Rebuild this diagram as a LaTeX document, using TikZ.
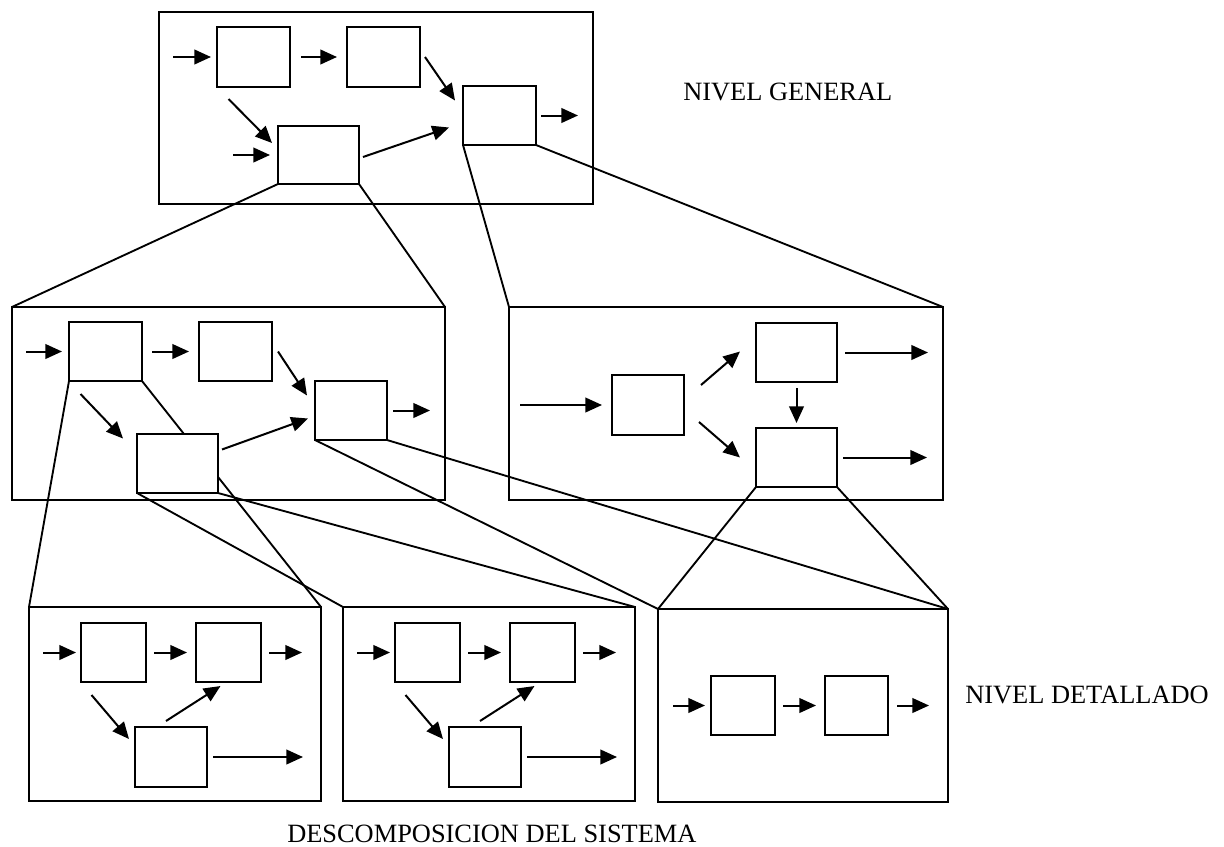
\documentclass[tikz,border=0pt]{standalone}
\usepackage{fontspec}
\setmainfont{Liberation Serif}
\usetikzlibrary{arrows.meta,calc,fit,backgrounds}
\tikzset{
  marco/.style={draw, line width=1.5pt, inner sep=0pt, outer sep=0pt},
  blk/.style={draw, fill=white, line width=1.5pt, inner sep=0pt, outer sep=0pt},
  arr/.style={line width=1.5pt, -{Triangle[length=12.5pt,width=11pt]}},
  lnk/.style={line width=1.4pt},
  lbl/.style={font=\fontsize{19.8}{23}\selectfont, inner sep=0pt, anchor=base west}
}
\newcommand{\subnivel}[2]{% Syntax: {name}{left x}
  \node[marco, fit={(#2,607) (#2+292,801)}] (#1) {};
  \node[blk, fit={(#2+52,623) (#2+117,682)}] (#11) {};
  \node[blk, fit={(#2+167,623) (#2+232,682)}] (#12) {};
  \node[blk, fit={(#2+106,727) (#2+178,787)}] (#13) {};
  \draw[arr] ($(#11.west)+(-38,0)$) -- ($(#11.west)+(-5,0)$);
  \draw[arr] ($(#11.east)+(8,0)$) -- ($(#12.west)+(-9,0)$);
  \draw[arr] ($(#12.east)+(8,0)$) -- ($(#12.east)+(41,0)$);
  \draw[arr] ($(#11.south)+(-22,13)$) -- ($(#13.west)+(-6,-18)$);
  \draw[arr] ($(#13.north)+(-5,-6)$) -- ($(#12.south)+(-8,4)$);
  \draw[arr] ($(#13.east)+(6,0)$) -- ($(#13.east)+(96,0)$);
}

\begin{document}
\begin{tikzpicture}[x=0.75pt,y=-0.75pt]
\useasboundingbox (0,0) rectangle (1224,846);
% nivel general
\node[marco, fit={(159,12) (593,204)}] (T) {};
\node[blk, fit={(217,27) (290,87)}] (T1) {};
\node[blk, fit={(347,27) (420,87)}] (T2) {};
\node[blk, fit={(463,86) (536,145)}] (T3) {};
\node[blk, fit={(278,126) (359,184)}] (T4) {};
\draw[arr] ($(T1.west)+(-44,0)$) -- ($(T1.west)+(-6,0)$);
\draw[arr] ($(T1.east)+(11,0)$) -- ($(T2.west)+(-10,0)$);
\draw[arr] ($(T2.east)+(5,0)$) -- ($(T3.west)+(-8,-15)$);
\draw[arr] ($(T1.south)+(-25,12)$) -- ($(T4.west)+(-6,-12)$);
\draw[arr] ($(T4.west)+(-45,0)$) -- ($(T4.west)+(-8,0)$);
\draw[arr] ($(T4.east)+(4,2)$) -- ($(T3.west)+(-14,12)$);
\draw[arr] ($(T3.east)+(5,0)$) -- ($(T3.east)+(42,0)$);
% nivel intermedio, izquierda
\node[marco, fit={(12,307) (445,500)}] (L) {};
\node[blk, fit={(69,322) (142,381)}] (L1) {};
\node[blk, fit={(199,322) (272,381)}] (L2) {};
\node[blk, fit={(315,381) (387,440)}] (L3) {};
\node[blk, fit={(137,434) (218,493)}] (L4) {};
\draw[arr] ($(L1.west)+(-43,0)$) -- ($(L1.west)+(-7,0)$);
\draw[arr] ($(L1.east)+(10,0)$) -- ($(L2.west)+(-10,0)$);
\draw[arr] ($(L2.east)+(6,0)$) -- ($(L3.west)+(-8,-15)$);
\draw[arr] ($(L1.south)+(-25,13)$) -- ($(L4.west)+(-14,-25)$);
\draw[arr] ($(L4.east)+(4,-14)$) -- ($(L3.west)+(-7,8)$);
\draw[arr] ($(L3.east)+(6,0)$) -- ($(L3.east)+(43,0)$);
% nivel intermedio, derecha
\node[marco, fit={(509,307) (943,500)}] (R) {};
\node[blk, fit={(612,375) (684,435)}] (R1) {};
\node[blk, fit={(756,323) (837,382)}] (R2) {};
\node[blk, fit={(756,428) (837,487)}] (R3) {};
\draw[arr] ($(R1.west)+(-92,0)$) -- ($(R1.west)+(-10,0)$);
\draw[arr] ($(R1.east)+(17,-20)$) -- ($(R2.west)+(-16,-1)$);
\draw[arr] ($(R1.east)+(15,17)$) -- ($(R3.west)+(-16,0)$);
\draw[arr] ($(R2.south)+(0,6)$) -- ($(R3.north)+(0,-5)$);
\draw[arr] ($(R2.east)+(8,0)$) -- ($(R2.east)+(91,0)$);
\draw[arr] ($(R3.east)+(6,0)$) -- ($(R3.east)+(90,0)$);
% nivel detallado
\subnivel{D}{29}
\subnivel{E}{343}
\node[marco, fit={(658,609) (948,802)}] (F) {};
\node[blk, fit={(711,676) (775,735)}] (F1) {};
\node[blk, fit={(825,676) (888,735)}] (F2) {};
\draw[arr] ($(F1.west)+(-38,0)$) -- ($(F1.west)+(-6,0)$);
\draw[arr] ($(F1.east)+(8,0)$) -- ($(F2.west)+(-9,0)$);
\draw[arr] ($(F2.east)+(9,0)$) -- ($(F2.east)+(41,0)$);
% lineas entre niveles
\begin{scope}[on background layer]
\draw[lnk] (T4.south west) -- (L.north west);
\draw[lnk] (T4.south east) -- (L.north east);
\draw[lnk] (T3.south west) -- (R.north west);
\draw[lnk] (T3.south east) -- (R.north east);
\draw[lnk] (L1.south west) -- (D.north west);
\draw[lnk] (L1.south east) -- (D.north east);
\draw[lnk] (L4.south west) -- (E.north west);
\draw[lnk] (L4.south east) -- (E.north east);
\draw[lnk] (L3.south west) -- (F.north west);
\draw[lnk] (L3.south east) -- (F.north east);
\draw[lnk] (R3.south west) -- (F.north west);
\draw[lnk] (R3.south east) -- (F.north east);
\end{scope}
% textos
\node[lbl] (general) at (683,100) {NIVEL GENERAL};
\node[lbl] (detallado) at (965,703) {NIVEL DETALLADO};
\node[lbl] (descomp) at (287,842) {DESCOMPOSICION DEL SISTEMA};
\end{tikzpicture}
\end{document}
